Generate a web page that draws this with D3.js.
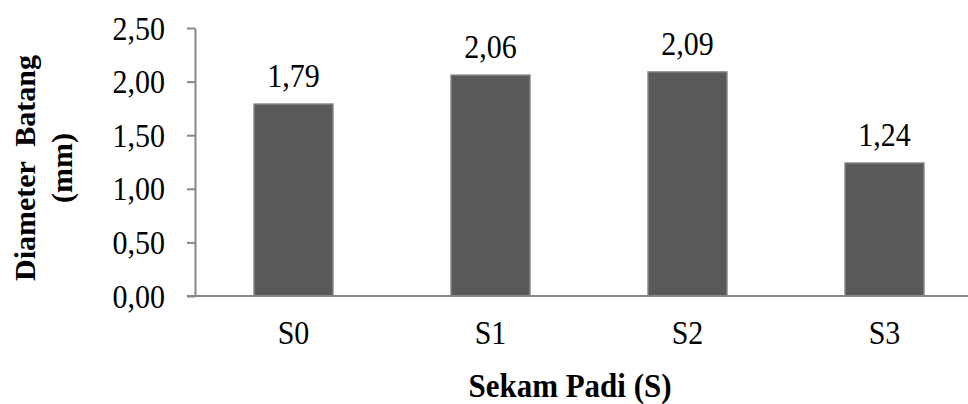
<!DOCTYPE html>
<html>
<head>
<meta charset="utf-8">
<script src="https://cdn.jsdelivr.net/npm/d3@7"></script>
<style>
  html, body { margin: 0; padding: 0; background: #fff; }
  svg { display: block; }
  text { font-family: "Liberation Serif", "Times New Roman", serif; fill: #000; }
</style>
</head>
<body>
<svg id="chart" width="968" height="404"></svg>
<script>
// Stem diameter per rice-husk treatment
const categories = ["S0", "S1", "S2", "S3"];
const values = [1.79, 2.06, 2.09, 1.24];
const yTicks = [0, 0.5, 1, 1.5, 2, 2.5];
const yTitleLines = ["Diameter  Batang", "(mm)"];
const xTitle = "Sekam Padi (S)";

const fmt = v => d3.format(".2f")(v).replace(".", ",");

const svg = d3.select("#chart");
const plot = { left: 195, right: 983, top: 28, bottom: 296 };
const axisColor = "#878787";
const stretch = 1.1; // glyphs are drawn slightly taller than wide

const x = d3.scaleBand()
  .domain(categories)
  .range([plot.left, plot.right])
  .paddingInner(0.6)
  .paddingOuter(0.3);

const y = d3.scaleLinear()
  .domain([0, 2.5])
  .range([plot.bottom, plot.top]);

// Bars
svg.append("g").selectAll("rect")
  .data(values)
  .join("rect")
  .attr("x", (d, i) => x(categories[i]))
  .attr("y", d => y(d))
  .attr("width", x.bandwidth())
  .attr("height", d => y(0) - y(d))
  .attr("fill", "#595959")
  .attr("stroke", "#7d7d7d")
  .attr("stroke-width", 1.5);

// Y axis
const yAxis = svg.append("g")
  .attr("transform", `translate(${plot.left},0)`)
  .call(d3.axisLeft(y).tickValues(yTicks).tickFormat(fmt).tickSize(8).tickSizeOuter(0));
yAxis.select(".domain").attr("stroke", axisColor).attr("stroke-width", 2);
yAxis.selectAll(".tick line").attr("stroke", axisColor).attr("stroke-width", 2);
yAxis.selectAll(".tick text")
  .attr("x", 0).attr("y", 0).attr("dy", null)
  .attr("transform", `translate(-30,11) scale(1,${stretch})`)
  .style("font-family", "Liberation Serif")
  .style("font-size", "30px")
  .attr("fill", "#000");

// X axis
const xAxis = svg.append("g")
  .attr("transform", `translate(0,${plot.bottom})`)
  .call(d3.axisBottom(x).tickSize(0).tickSizeOuter(0));
xAxis.select(".domain")
  .attr("d", `M${plot.left - 8},0H968`)
  .attr("stroke", axisColor).attr("stroke-width", 2);
xAxis.selectAll(".tick text")
  .attr("y", 0).attr("dy", null)
  .attr("transform", `translate(0,48) scale(1,${stretch})`)
  .style("font-family", "Liberation Serif")
  .style("font-size", "30px")
  .attr("fill", "#000");

// Value labels
svg.append("g").selectAll("text")
  .data(values)
  .join("text")
  .attr("transform", (d, i) =>
    `translate(${x(categories[i]) + x.bandwidth() / 2},${y(d) - 17}) scale(1,${stretch})`)
  .attr("text-anchor", "middle")
  .style("font-size", "30px")
  .text(d => fmt(d));

// Axis titles
svg.append("text")
  .attr("transform", `translate(570,397) scale(1,${stretch})`)
  .attr("text-anchor", "middle")
  .style("font-size", "31px")
  .style("font-weight", "bold")
  .text(xTitle);

const yTitle = svg.append("text")
  .attr("transform", "translate(0,168) rotate(-90)")
  .attr("text-anchor", "middle")
  .style("font-size", "30px")
  .style("font-weight", "bold")
  .style("white-space", "pre");
yTitle.selectAll("tspan")
  .data(yTitleLines)
  .join("tspan")
  .attr("x", 0)
  .attr("y", (d, i) => 35 + i * 37)
  .text(d => d);
</script>
</body>
</html>
